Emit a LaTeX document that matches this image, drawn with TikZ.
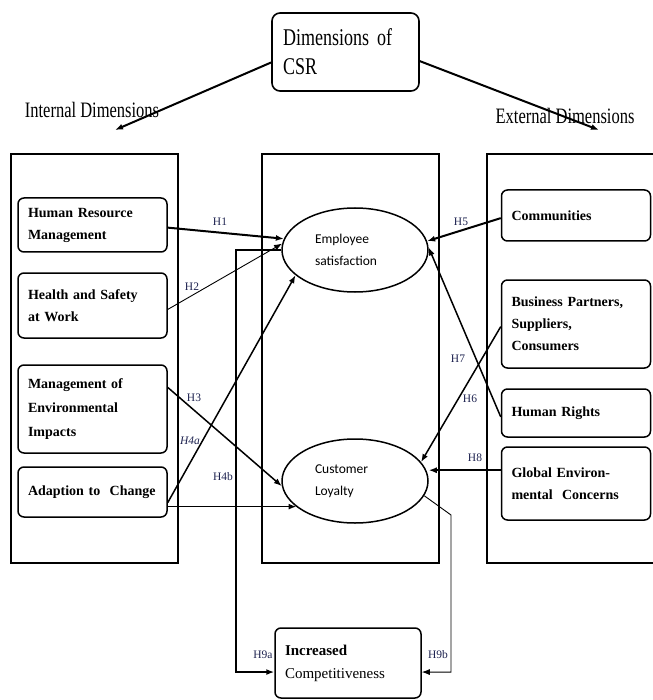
\documentclass[tikz,border=0pt]{standalone}
\usepackage{fontspec}
\setmainfont{Liberation Serif}
\newfontfamily\narrowserif[FakeStretch=0.75]{Liberation Serif}
\newfontfamily\ellfont{Carlito}
\usepackage{tikz}
\usetikzlibrary{arrows.meta,shapes.geometric}
\definecolor{hblue}{RGB}{30,35,80}

\begin{document}
\begin{tikzpicture}[
  x=1pt, y=-1pt,
  titlebox/.style={draw,rounded corners=8pt,line width=1.6pt,minimum width=147pt,minimum height=78pt,
    text width=125pt,inner xsep=11pt,inner ysep=0pt,align=left,font=\narrowserif\fontsize{24}{29}\selectfont},
  dimlabel/.style={font=\narrowserif\fontsize{22}{24}\selectfont,inner sep=0pt},
  dimbox/.style={draw,rounded corners=6pt,line width=1.5pt,text width=129pt,inner xsep=10pt,inner ysep=0pt,
    align=left,font=\fontsize{14}{22}\selectfont\bfseries},
  elnode/.style={draw,ellipse,line width=1.5pt,minimum width=146pt,minimum height=84pt,text width=80pt,
    align=left,font=\ellfont\fontsize{13.5}{22}\selectfont},
  compbox/.style={draw,rounded corners=6pt,line width=1.5pt,minimum width=146pt,minimum height=70pt,
    text width=126pt,inner xsep=10pt,inner ysep=0pt,align=left,font=\fontsize{15}{23}\selectfont},
  frame/.style={line width=1.8pt},
  hlab/.style={font=\fontsize{11.5}{12}\selectfont,text=hblue,inner sep=0pt},
  arr/.style={-{Latex[length=8pt,width=6pt]},line width=1.5pt}
]
  \useasboundingbox (0,0) rectangle (652,700);

  % dimension frames
  \draw[frame] (11,154) rectangle (178,563);
  \draw[frame] (262,154) rectangle (439,563);
  \draw[frame] (660,154) -| (487,563) -- (660,563);

  % root
  \node[titlebox] (csr) at (345.5,52) {Dimensions of\\CSR};
  \node[dimlabel] (intdim) at (92,110) {Internal Dimensions};
  \node[dimlabel] (extdim) at (565,116) {External Dimensions};
  \coordinate (intarr) at (115,130);
  \coordinate (extarr) at (599,130);

  % internal dimensions
  \node[dimbox,minimum height=54pt] (hrm) at (92.5,225) {Human Resource\\Management};
  \node[dimbox,minimum height=65pt] (health) at (92.5,305.5) {Health and Safety\\at Work};
  \node[dimbox,minimum height=88pt,font=\fontsize{14}{24}\selectfont\bfseries] (mgmt) at (92.5,409)
    {Management of\\Environmental\\Impacts};
  \node[dimbox,minimum height=50pt] (adapt) at (92.5,492) {Adaption to\ \ Change};

  % outcomes
  \node[elnode] (empsat) at (355,250) {Employee\\satisfaction};
  \node[elnode] (custloy) at (355,481) {Customer\\Loyalty};
  \node[compbox] (incomp) at (348,663) {\textbf{Increased}\\Competitiveness};

  % external dimensions
  \node[dimbox,minimum height=51pt] (comm) at (576,215.5) {Communities};
  \node[dimbox,minimum height=88pt] (bus) at (576,324) {Business Partners,\\Suppliers,\\Consumers};
  \node[dimbox,minimum height=48pt] (hr) at (576,413) {Human Rights};
  \node[dimbox,minimum height=73pt] (global) at (576,483.5) {Global Environ-\\mental\ \ Concerns};

  % bends
  \coordinate (h9atop) at (236,250);
  \coordinate (h9bbend) at (451,515);

  % root edges
  \draw[arr,line width=2pt] (csr.188) -- (intarr);
  \draw[arr,line width=2pt] (csr.353) -- (extarr);

  % internal edges
  \draw[arr,line width=2pt] (hrm.358) -- (empsat.171);
  \draw[arr,line width=0.9pt] (health.357) -- (empsat.175);
  \draw[arr] (mgmt.16) -- (custloy.184);
  \draw[arr] (adapt.352) -- (empsat.203);
  \draw[arr] (adapt.349) -- (adapt.349 -| custloy.204);

  % external edges
  \draw[arr,line width=2pt] (comm.182) -- (empsat.7);
  \draw[arr] (bus.182) -- (custloy.16);
  \draw[arr] (hr.183) -- (empsat.2);
  \draw[arr] (global.170) -- (global.170 -| custloy.east);

  % competitiveness edges
  \draw[arr] (empsat.west) -- (h9atop) |- (incomp.187);
  \draw[arr,line width=0.9pt] (custloy.348) -- (h9bbend) |- (incomp.353);

  % hypotheses
  \node[hlab] (h1) at (220,222) {H1};
  \node[hlab] (h2) at (192,287) {H2};
  \node[hlab] (h3) at (194,398) {H3};
  \node[hlab] (h4a) at (190,441) {\itshape H4a};
  \node[hlab] (h4b) at (223,477) {H4b};
  \node[hlab] (h5) at (461,222) {H5};
  \node[hlab] (h6) at (470,399) {H6};
  \node[hlab] (h7) at (458,359) {H7};
  \node[hlab] (h8) at (475,458) {H8};
  \node[hlab] (h9a) at (263,655) {H9a};
  \node[hlab] (h9b) at (438,655) {H9b};

\end{tikzpicture}
\end{document}
